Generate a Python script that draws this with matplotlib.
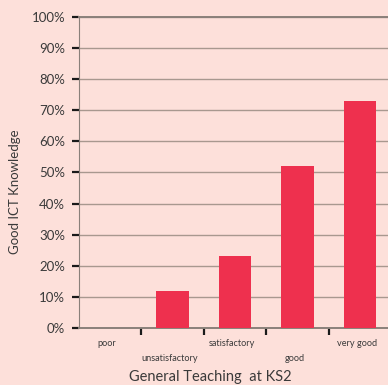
import matplotlib

matplotlib.use("Agg", force=True)

import matplotlib.pyplot as plt
from matplotlib.ticker import FixedLocator, PercentFormatter

categories = ["poor", "unsatisfactory", "satisfactory", "good", "very good"]
values = [0, 12, 23, 52, 73]
y_ticks = [0, 10, 20, 30, 40, 50, 60, 70, 80, 90, 100]

BG = "#fde0da"
BAR = "#ee304e"
GRID = "#a8988f"
TEXT = "#3a3a3a"

plt.rcParams["font.family"] = ["Lato", "DejaVu Sans"]

fig = plt.figure(figsize=(3.88, 3.85), dpi=100, facecolor=BG)
ax = fig.add_axes([79 / 388, 1 - 328 / 385, 312 / 388, 311 / 385])
ax.set_facecolor(BG)

positions = list(range(len(categories)))
ax.bar(positions, values, width=0.52, color=BAR, zorder=3)

ax.set_xlim(-0.5, len(categories) - 0.5)
ax.set_ylim(0, 100)
ax.set_yticks(y_ticks)
ax.yaxis.set_major_formatter(PercentFormatter(decimals=0))
ax.grid(axis="y", color=GRID, linewidth=1.0, zorder=1)
ax.tick_params(axis="y", length=5, width=1.6, color="#1a1a1a", labelsize=9.5,
               labelcolor=TEXT, pad=5)

# tick marks between categories, labels staggered in two rows
ax.xaxis.set_major_locator(FixedLocator([p + 0.5 for p in positions[:-1]]))
ax.tick_params(axis="x", length=5, width=1.6, color="#1a1a1a", labelbottom=False)
for p, name in zip(positions, categories):
    row = 0 if p % 2 == 0 else 1
    ax.annotate(name, xy=(p - 0.05, 0), xycoords=("data", "axes fraction"),
                xytext=(0, -8 - 11 * row), textcoords="offset points",
                ha="center", va="top", fontsize=6.6, color=TEXT,
                annotation_clip=False)

for side in ["top", "right"]:
    ax.spines[side].set_visible(False)
ax.spines["left"].set_color("#8a807a")
ax.spines["bottom"].set_color("#8a807a")
ax.spines["bottom"].set_linewidth(1.4)
ax.axhline(100, color="#8a807a", linewidth=1.4, zorder=2, clip_on=False)

fig.text(210 / 388, 1 - 377 / 385, "General Teaching  at KS2", ha="center",
         va="center", fontsize=10.5, color=TEXT)
fig.text(15 / 388, 1 - 192 / 385, "Good ICT Knowledge", ha="center", va="center",
         rotation=90, fontsize=9.5, color=TEXT)

fig.savefig("out.png", dpi=100, facecolor=BG)
